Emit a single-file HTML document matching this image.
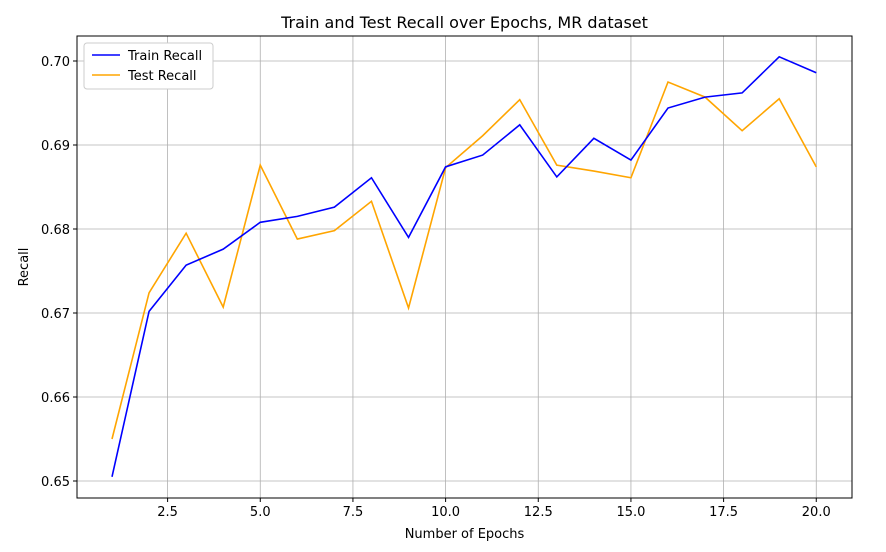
<!DOCTYPE html>
<html><head><meta charset="utf-8"><style>
body{margin:0;background:#fff;font-family:"Liberation Sans","DejaVu Sans",sans-serif;}
svg text{font-family:"DejaVu Sans","Liberation Sans",sans-serif;}
</style></head><body>
<svg id="chart" width="886" height="547" xmlns="http://www.w3.org/2000/svg"></svg>
<script>
const epochs=[1,2,3,4,5,6,7,8,9,10,11,12,13,14,15,16,17,18,19,20];
const trainRecall=[0.6505,0.6702,0.6757,0.6776,0.6808,0.6815,0.6826,0.6861,0.6790,0.6874,0.6888,0.6924,0.6862,0.6908,0.6882,0.6944,0.6957,0.6962,0.7005,0.6986];
const testRecall=[0.6550,0.6724,0.6795,0.6707,0.6876,0.6788,0.6798,0.6833,0.6706,0.6873,0.6911,0.6954,0.6876,0.6869,0.6861,0.6975,0.6957,0.6917,0.6955,0.6874];
const xTicks=[2.5,5.0,7.5,10.0,12.5,15.0,17.5,20.0];
const yTicks=[0.65,0.66,0.67,0.68,0.69,0.70];
const L=77,R=852,T=36,B=498;
const xs=v=>112+(v-1)*(817-261)/15;
const ys=v=>481-(v-0.65)*8400;
const svg=document.getElementById('chart');
const NS='http://www.w3.org/2000/svg';
function mk(tag,attrs,txt){const e=document.createElementNS(NS,tag);for(const k in attrs)e.setAttribute(k,attrs[k]);if(txt!==undefined)e.textContent=txt;svg.appendChild(e);return e;}
xTicks.forEach(t=>{const x=xs(t);
 let g=mk('line',{x1:x,x2:x,y1:T,y2:B,stroke:'#b0b0b0','stroke-width':0.8});
 
 mk('line',{x1:x,x2:x,y1:B,y2:B+4,stroke:'#000'});
 let l=mk('text',{x:x,y:B+18,'text-anchor':'middle','font-size':13},t.toFixed(1));
 });
yTicks.forEach(t=>{const y=ys(t);
 let g=mk('line',{x1:L,x2:R,y1:y,y2:y,stroke:'#b0b0b0','stroke-width':0.8});
 
 mk('line',{x1:L-4,x2:L,y1:y,y2:y,stroke:'#000'});
 let l=mk('text',{x:L-7,y:y+5,'text-anchor':'end','font-size':13},t.toFixed(2));
 });
function line(vals,color,name){const p=vals.map((v,i)=>xs(epochs[i])+','+ys(v)).join(' ');
 const e=mk('polyline',{points:p,fill:'none',stroke:color,'stroke-width':1.6});
 }
line(testRecall,'orange','test-recall-line');
line(trainRecall,'blue','train-recall-line');
let f=mk('rect',{x:L,y:T,width:R-L,height:B-T,fill:'none',stroke:'#000','stroke-width':1});

let t=mk('text',{x:(L+R)/2,y:28,'text-anchor':'middle','font-size':16},'Train and Test Recall over Epochs, MR dataset');

let xl=mk('text',{x:(L+R)/2,y:538,'text-anchor':'middle','font-size':13},'Number of Epochs');

let yl=mk('text',{x:28,y:(T+B)/2,'text-anchor':'middle','font-size':13,transform:'rotate(-90 28 '+((T+B)/2)+')'},'Recall');

let lg=mk('rect',{x:84,y:43,width:129,height:46,fill:'#fff',stroke:'#ccc',rx:3});

let a=mk('line',{x1:92,x2:120,y1:55,y2:55,stroke:'blue','stroke-width':1.6});

let at=mk('text',{x:128,y:60,'font-size':13},'Train Recall');

let b=mk('line',{x1:92,x2:120,y1:75,y2:75,stroke:'orange','stroke-width':1.6});

let bt=mk('text',{x:128,y:80,'font-size':13},'Test Recall');

</script>
</body></html>
